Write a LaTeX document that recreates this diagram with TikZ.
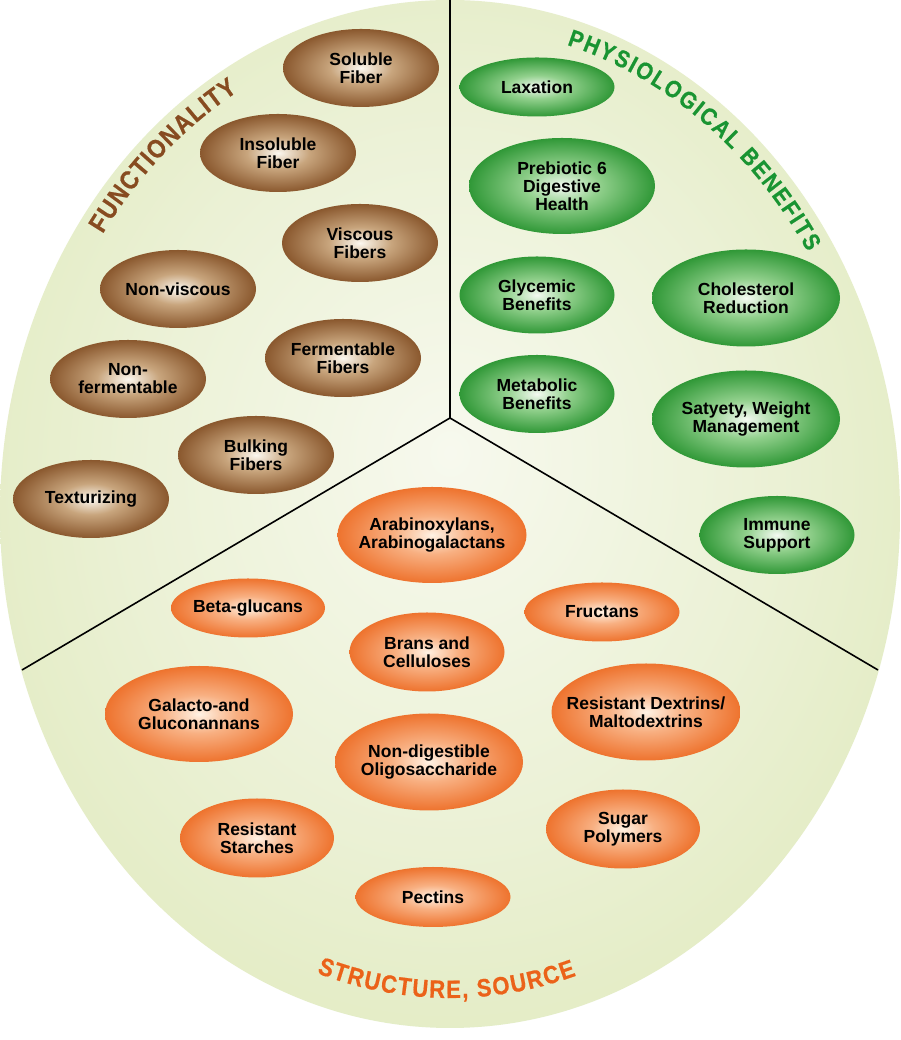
\documentclass[tikz,border=0pt]{standalone}
\usepackage{fontspec}
\setmainfont{Liberation Sans}
\newfontfamily\titlefont{Liberation Sans Bold}[FakeStretch=0.88,FakeBold=0.6]
\usetikzlibrary{shapes.geometric,decorations.text}

\definecolor{tbrown}{RGB}{135,75,32}
\definecolor{tgreen}{RGB}{25,148,50}
\definecolor{torange}{RGB}{235,98,25}

\definecolor{bgA}{RGB}{247,249,238}
\definecolor{bgB}{RGB}{235,241,213}
\definecolor{bgC}{RGB}{210,224,158}
\definecolor{bwA}{RGB}{252,248,240}
\definecolor{bwB}{RGB}{200,165,125}
\definecolor{bwC}{RGB}{138,88,46}
\definecolor{bwD}{RGB}{112,66,30}
\definecolor{gwA}{RGB}{244,250,242}
\definecolor{gwB}{RGB}{145,208,140}
\definecolor{gwC}{RGB}{48,152,55}
\definecolor{gwD}{RGB}{22,132,32}
\definecolor{owA}{RGB}{255,242,228}
\definecolor{owB}{RGB}{248,176,130}
\definecolor{owC}{RGB}{238,115,46}
\definecolor{owD}{RGB}{228,90,18}

\pgfdeclareradialshading{bgshade}{\pgfpoint{0bp}{3bp}}{color(0bp)=(bgA); color(18bp)=(bgB); color(50bp)=(bgC)}
\pgfdeclareradialshading{brownball}{\pgfpoint{0bp}{0bp}}{color(0bp)=(bwA); color(10bp)=(bwB); color(25bp)=(bwC); color(50bp)=(bwD)}
\pgfdeclareradialshading{greenball}{\pgfpoint{0bp}{0bp}}{color(0bp)=(gwA); color(10bp)=(gwB); color(25bp)=(gwC); color(50bp)=(gwD)}
\pgfdeclareradialshading{orangeball}{\pgfpoint{0bp}{0bp}}{color(0bp)=(owA); color(10bp)=(owB); color(25bp)=(owC); color(50bp)=(owD)}

\tikzset{
  oval/.style={ellipse, inner sep=0pt, draw=none, shade},
  brownb/.style={oval, shading=brownball},
  greenb/.style={oval, shading=greenball},
  orangeb/.style={oval, shading=orangeball},
  lab/.style={align=center, inner sep=0pt, text=black, font=\bfseries\fontsize{17.5}{18}\selectfont},
  divider/.style={draw=black, line width=1.6pt},
}

\newcommand{\bub}[6]{%
  \node[#1, minimum width=#4pt, minimum height=#5pt] (#2) at (#3) {};
  \node[lab] (#2-t) at (#2.center) {#6};}

\newcommand{\ttl}[1]{\titlefont\fontsize{#1}{#1}\selectfont}

\begin{document}
\begin{tikzpicture}[x=1pt,y=1pt]
\useasboundingbox (0,0) rectangle (900,1040);
\fill[white] (0,0) rectangle (900,1040);

% main disc
\shade[shading=bgshade] (450,526) ellipse [x radius=450, y radius=514];

% dividers
\coordinate (top) at (450,1040);
\coordinate (hub) at (450,622);
\coordinate (lend) at (22,370);
\coordinate (rend) at (878,370);
\draw[divider] (top) -- (hub);
\draw[divider] (hub) -- (lend);
\draw[divider] (hub) -- (rend);

% titles
\path[decorate, decoration={text along path, text align={fit to path}, text color=tbrown,
   text={|\ttl{26}|FUNCTIONALITY}}]
  (450,526) ++(145:424 and 488) arc[start angle=145, end angle=120, x radius=424, y radius=488];
\path[decorate, decoration={text along path, text align={fit to path}, text color=tgreen,
   text={|\ttl{24}|PHYSIOLOGICAL BENEFITS}}]
  (450,526) ++(74:424 and 488) arc[start angle=74, end angle=32.5, x radius=424, y radius=488];
\path[decorate, decoration={text along path, text align={fit to path}, text color=torange,
   text={|\ttl{25}|STRUCTURE, SOURCE}}]
  (450,526) ++(251.5:420 and 484) arc[start angle=251.5, end angle=287.5, x radius=420, y radius=484];

% functionality (brown)
\bub{brownb}{sol}{361,972}{156}{78}{Soluble\\Fiber}
\bub{brownb}{insol}{278,887}{156}{78}{Insoluble\\Fiber}
\bub{brownb}{visc}{360,797}{156}{78}{Viscous\\Fibers}
\bub{brownb}{nonvisc}{178,751}{156}{78}{Non-viscous}
\bub{brownb}{nonferm}{128,661}{156}{78}{Non-\\fermentable}
\bub{brownb}{ferm}{343,682}{156}{78}{Fermentable\\Fibers}
\bub{brownb}{bulk}{256,585}{156}{78}{Bulking\\Fibers}
\bub{brownb}{textur}{91,541}{156}{78}{Texturizing}

% physiological benefits (green)
\bub{greenb}{lax}{537,953}{155}{59}{Laxation}
\bub{greenb}{preb}{562,854}{186}{96}{Prebiotic 6\\Digestive\\Health}
\bub{greenb}{glyc}{537,745}{155}{77}{Glycemic\\Benefits}
\bub{greenb}{chol}{746,742}{188}{97}{Cholesterol\\Reduction}
\bub{greenb}{metab}{537,646}{155}{78}{Metabolic\\Benefits}
\bub{greenb}{saty}{746,621}{188}{97}{Satyety, Weight\\Management}
\bub{greenb}{immune}{777,505}{155}{78}{Immune\\Support}

% structure, source (orange)
\bub{orangeb}{arab}{432,505}{189}{96}{Arabinoxylans,\\Arabinogalactans}
\bub{orangeb}{beta}{248,432}{154}{59}{Beta-glucans}
\bub{orangeb}{fruc}{602,428}{155}{59}{Fructans}
\bub{orangeb}{brans}{427,388}{155}{79}{Brans and\\Celluloses}
\bub{orangeb}{galac}{199,326}{188}{96}{Galacto-and\\Gluconannans}
\bub{orangeb}{dext}{646,328}{189}{97}{Resistant Dextrins/\\Maltodextrins}
\bub{orangeb}{nondig}{429,278}{188}{97}{Non-digestible\\Oligosaccharide}
\bub{orangeb}{rstarch}{257,202}{154}{79}{Resistant\\Starches}
\bub{orangeb}{sugar}{623,211}{154}{79}{Sugar\\Polymers}
\bub{orangeb}{pect}{433,143}{155}{60}{Pectins}
\end{tikzpicture}
\end{document}
